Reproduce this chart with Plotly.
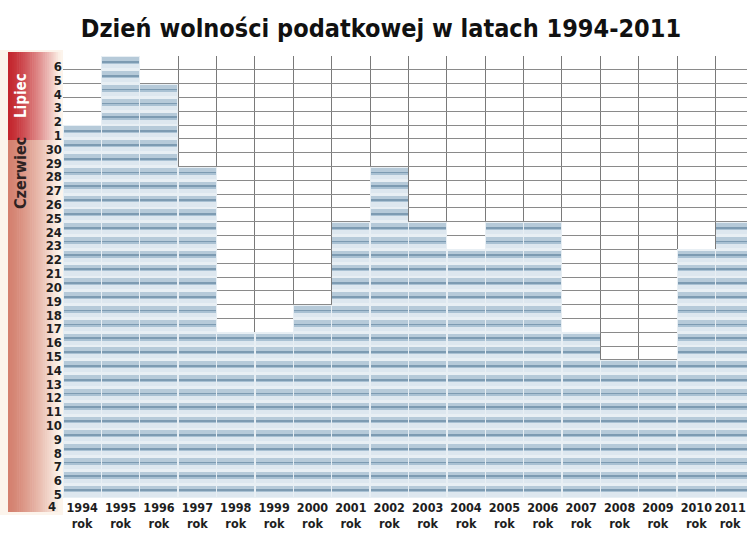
import plotly.graph_objects as go

# ---- data ----
years = [1994, 1995, 1996, 1997, 1998, 1999, 2000, 2001, 2002,
         2003, 2004, 2005, 2006, 2007, 2008, 2009, 2010, 2011]
months = ["VII", "VII", "VII", "VI", "VI", "VI", "VI", "VI", "VI",
          "VI", "VI", "VI", "VI", "VI", "VI", "VI", "VI", "VI"]
days = [1, 6, 4, 28, 16, 16, 18, 24, 28, 24, 22, 24, 24, 16, 14, 14, 22, 24]

# rows of the day scale (bottom -> top)
june_days = list(range(5, 31))
july_days = list(range(1, 7))
row_keys = [("VI", d) for d in june_days] + [("VII", d) for d in july_days]
row_labels = [str(d) for d in june_days] + [str(d) for d in july_days]
bottom_label = "4"

x_labels = [f"{y}<br>rok" for y in years]

n_rows = len(row_keys)
filled = [row_keys.index((m, d)) + 1 for m, d in zip(months, days)]

# ---- geometry helpers (pixels -> paper) ----
W, H = 747, 540
ML, MR, MT, MB = 63, 0, 56, 42
PW, PH = W - ML - MR, H - MT - MB


def px(x):
    return (x - ML) / PW


def py(y):
    return (H - MB - y) / PH


FONT = "DejaVu Sans Condensed, sans-serif"

fig = go.Figure()

# pill bands (offset within a row, height, colour, width)
bands = [
    (0.00, 1.00, "#e8eff4", 1.0),
    (0.10, 0.30, "#dde7ef", 0.965),
    (0.40, 0.16, "#a9c1d3", 0.965),
    (0.54, 0.09, "#7d9bb2", 0.965),
    (0.63, 0.27, "#b6cad9", 0.965),
]
for off, h, col, w in bands:
    xs, bs, hs = [], [], []
    for i, n in enumerate(filled):
        for r in range(n):
            xs.append(i)
            bs.append(r + off)
            hs.append(h)
    fig.add_trace(go.Bar(x=xs, y=hs, base=bs, width=w,
                         marker=dict(color=col, line=dict(width=0)),
                         hoverinfo="skip", showlegend=False))

shapes = []


def lerp(c1, c2, t):
    a = [int(c1[i:i + 2], 16) for i in (1, 3, 5)]
    b = [int(c2[i:i + 2], 16) for i in (1, 3, 5)]
    return "#%02x%02x%02x" % tuple(round(a[k] + (b[k] - a[k]) * t) for k in range(3))


# cream background of the label column
shapes.append(dict(type="rect", xref="paper", yref="paper", x0=px(0), x1=px(ML),
                   y0=py(515), y1=py(50), fillcolor="#fcf4ec", line=dict(width=0),
                   layer="below"))

steps = 28
x_start, x_end = 8, 60
for k in range(steps):
    t = k / (steps - 1)
    xa = x_start + (x_end - x_start) * k / steps
    xb = x_start + (x_end - x_start) * (k + 1) / steps + 0.6
    tt = min(1, t ** 1.3)
    shapes.append(dict(type="rect", xref="paper", yref="paper", x0=px(xa), x1=px(xb),
                       y0=py(140), y1=py(52), fillcolor=lerp("#c3262e", "#fbefe6", tt),
                       line=dict(width=0), layer="below"))
    shapes.append(dict(type="rect", xref="paper", yref="paper", x0=px(xa), x1=px(xb),
                       y0=py(512), y1=py(140), fillcolor=lerp("#d4806f", "#fcf3ea", tt),
                       line=dict(width=0), layer="below"))

# last column is cut by the right edge; its label is pulled slightly left
x_tickvals = list(range(len(years)))
x_tickvals[-1] = len(years) - 1 - 0.12

fig.update_layout(
    width=W, height=H,
    margin=dict(l=ML, r=MR, t=MT, b=MB, autoexpand=False),
    paper_bgcolor="white", plot_bgcolor="white",
    barmode="overlay", bargap=0,
    shapes=shapes,
    title=dict(text="Dzień wolności podatkowej w latach 1994-2011",
               x=0.51, xanchor="center", y=1 - 28 / H, yanchor="middle",
               font=dict(family=FONT, size=25, color="#111111", weight="bold")),
    font=dict(family=FONT, color="#1e1e1e"),
    xaxis=dict(range=[-0.5, 17.32], tickmode="array", automargin=False,
               tickvals=x_tickvals, ticktext=x_labels, tickangle=0,
               ticklabeloverflow="allow",
               tickfont=dict(size=12.5, weight="bold"), showgrid=False,
               zeroline=False, showline=False, ticks="",
               minor=dict(tickvals=[i - 0.5 for i in range(len(years) + 1)],
                          showgrid=True, gridcolor="#7a7a7a", gridwidth=1.2, ticks="")),
    yaxis=dict(range=[0, n_rows], tickmode="array", automargin=False,
               tickvals=[r + 0.25 for r in range(n_rows)], ticktext=row_labels,
               tickfont=dict(size=13, weight="bold"), showgrid=False,
               zeroline=False, showline=False, ticks="",
               minor=dict(tickvals=list(range(n_rows + 1)),
                          showgrid=True, gridcolor="#8a8a8a", gridwidth=1.2, ticks="")),
    annotations=[
        dict(text=bottom_label, xref="paper", yref="paper", x=px(58), y=py(507),
             xanchor="right", yanchor="middle", showarrow=False,
             font=dict(size=13, weight="bold", color="#1e1e1e")),
        dict(text="Lipiec", xref="paper", yref="paper", x=px(21), y=py(96),
             textangle=-90, showarrow=False, xanchor="center", yanchor="middle",
             font=dict(size=15, weight="bold", color="white")),
        dict(text="Czerwiec", xref="paper", yref="paper", x=px(21), y=py(173),
             textangle=-90, showarrow=False, xanchor="center", yanchor="middle",
             font=dict(size=16, weight="bold", color="#2e2222")),
    ],
)

fig.write_html("out.html", config={"displayModeBar": False},
               post_script="document.body.style.margin='0';document.body.style.overflow='hidden';")
